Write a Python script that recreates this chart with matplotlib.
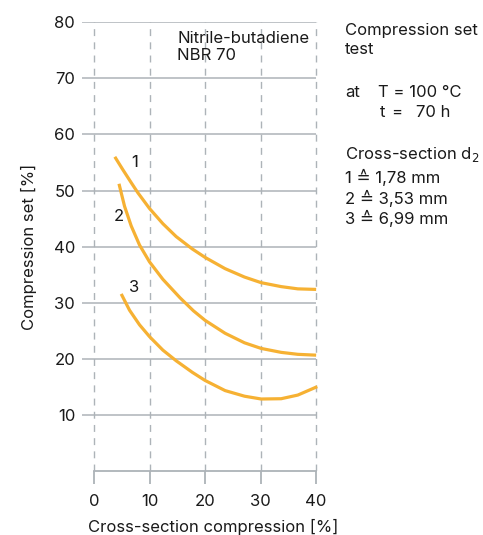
import numpy as np
import matplotlib.pyplot as plt

plt.rcParams['font.family'] = ['Inter', 'DejaVu Sans']

# curve data (cross-section compression [%], compression set [%])
x1 = [3.75, 5.2, 6.7, 7.9, 10.0, 12.4, 14.8, 17.7, 20.0, 23.6, 27.1, 30.1, 33.7, 36.7, 40.0]
y1 = [56.0, 53.7, 51.4, 49.6, 46.8, 44.1, 41.8, 39.6, 38.1, 36.1, 34.6, 33.6, 32.9, 32.5, 32.4]
x2 = [4.5, 5.5, 6.7, 8.2, 10.0, 12.4, 15.5, 17.9, 20.0, 23.6, 27.1, 30.1, 33.7, 36.7, 40.0]
y2 = [51.2, 47.2, 43.7, 40.3, 37.3, 34.2, 30.9, 28.6, 26.9, 24.6, 22.9, 21.9, 21.2, 20.85, 20.7]
x3 = [4.9, 6.4, 8.2, 10.0, 12.4, 14.8, 17.7, 20.0, 23.6, 27.1, 30.1, 33.7, 36.7, 40.2]
y3 = [31.6, 28.7, 26.1, 24.0, 21.6, 19.7, 17.65, 16.2, 14.4, 13.4, 12.9, 12.95, 13.6, 15.1]
curve_labels = ['1', '2', '3']
label_pos = [(7.3, 54.9), (4.4, 45.3), (7.3, 32.7)]

x_ticks = [0, 10, 20, 30, 40]
y_ticks = [10, 20, 30, 40, 50, 60, 70, 80]

orange = '#f6b133'
grid = '#adb3b8'
txt = '#1a1a1a'
fs = 12
W, H = 483, 535

fig = plt.figure(figsize=(4.83, 5.35), dpi=100)
ax = fig.add_axes([0.170, 0.1187, 0.488, 0.8403])
ax.set_xlim(-2.14, 40.3)
ax.set_ylim(0, 80)

for yv in y_ticks:
    ax.plot([-2.14, 40], [yv, yv], color=grid, lw=1.1, zorder=1, solid_capstyle='butt')
for xv in x_ticks:
    ax.plot([xv, xv], [0, 80], color=grid, lw=1.0, ls=(0, (5, 4.5)), zorder=1)
ax.plot([0, 40], [0, 0], color=grid, lw=1.3, zorder=1, clip_on=False)

for xs, ys in [(x1, y1), (x2, y2), (x3, y3)]:
    ax.plot(xs, ys, color=orange, lw=2.3, zorder=3, solid_capstyle='butt',
            solid_joinstyle='round')
for lab, (lx, ly) in zip(curve_labels, label_pos):
    ax.text(lx, ly, lab, fontsize=fs, color=txt, ha='center', va='center')

for s in ax.spines.values():
    s.set_visible(False)
ax.set_xticks(x_ticks)
ax.set_yticks(y_ticks)
ax.tick_params(axis='x', length=9.5, width=1.3, color=grid, direction='out', pad=6.5,
               labelsize=fs, labelcolor=txt)
ax.tick_params(axis='y', length=0, pad=5, labelsize=fs, labelcolor=txt)
ax.set_ylabel('Compression set [%]', fontsize=fs, color=txt, labelpad=12)
fig.text(213 / W, 1 - 527 / H, 'Cross-section compression [%]', fontsize=fs, color=txt,
         ha='center', va='center')

ax.text(15.0, 78.4, 'Nitrile-butadiene\nNBR 70', fontsize=fs, color=txt,
        ha='left', va='top', linespacing=1.2)

fig.text(345 / W, 1 - 30 / H, 'Compression set', fontsize=fs, color=txt, va='center')
fig.text(345 / W, 1 - 50 / H, 'test', fontsize=fs, color=txt, va='center')
fig.text(345 / W, 1 - 92 / H, 'at', fontsize=fs, color=txt, va='center')
fig.text(378 / W, 1 - 92 / H, 'T = 100 °C', fontsize=fs, color=txt, va='center')
fig.text(380 / W, 1 - 112 / H, 't', fontsize=fs, color=txt, va='center')
fig.text(391 / W, 1 - 112 / H, '=', fontsize=fs, color=txt, va='center')
fig.text(416 / W, 1 - 112 / H, '70 h', fontsize=fs, color=txt, va='center')
fig.text(345 / W, 1 - 155 / H, 'Cross-section d$_2$', fontsize=fs, color=txt, va='center')
fig.text(345 / W, 1 - 177 / H, '1 \u2259 1,78 mm', fontsize=fs, color=txt, va='center')
fig.text(345 / W, 1 - 198 / H, '2 \u2259 3,53 mm', fontsize=fs, color=txt, va='center')
fig.text(345 / W, 1 - 218 / H, '3 \u2259 6,99 mm', fontsize=fs, color=txt, va='center')

fig.savefig('out.png', dpi=100)
